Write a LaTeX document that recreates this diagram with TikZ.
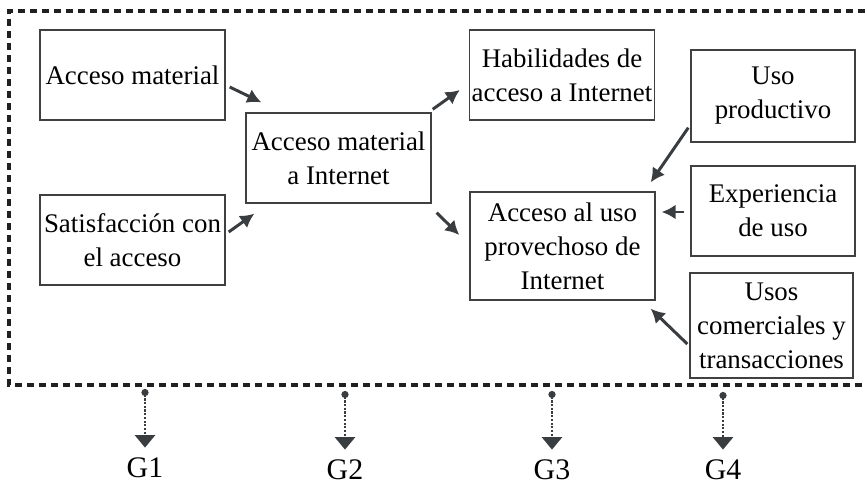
\documentclass[tikz,border=0pt]{standalone}
\usepackage{fontspec}
\setmainfont{Liberation Serif}
\usetikzlibrary{arrows.meta}
\definecolor{arrowgray}{HTML}{3A3D40}
\definecolor{framegray}{HTML}{202020}

\begin{document}
\begin{tikzpicture}[x=0.02cm, y=-0.02cm,
	box/.style={draw=black!75, line width=0.8pt, align=flush center, inner sep=0pt, text width=3.7cm, minimum height=1.8cm, font=\fontsize{15.3}{19.4}\selectfont},
	sidebox/.style={box, text width=3.28cm},
	conn/.style={draw=arrowgray, line width=1.7pt, -{Latex[length=2.8mm, width=3mm]}},
	garrow/.style={draw=arrowgray, line width=1.5pt, dash pattern=on 1.3pt off 0.8pt, {Circle[length=1.4mm]}-{Triangle[length=2.5mm, width=4mm]}, shorten >=0.2cm},
	glabel/.style={font=\fontsize{17}{20}\selectfont, inner sep=0pt}]
	\useasboundingbox (0,0) rectangle (867,487);
	% dashed frame, open on the right
	\draw[framegray, line width=2.3pt, dash pattern=on 0.14cm off 0.1cm] (865,11) -- (9,11) -- (9,385) -- (865,385);
	% boxes
	\node[box] (am) at (132.5,75) {Acceso material};
	\node[box] (sat) at (132.5,240) {Satisfacción con\\el acceso};
	\node[box] (ami) at (338.5,158) {Acceso material\\a Internet};
	\node[box] (hab) at (562,75) {Habilidades de\\acceso a Internet};
	\node[box, minimum height=2.16cm] (prov) at (562.5,246) {Acceso al uso\\provechoso de\\Internet};
	\node[sidebox, minimum height=1.84cm] (uso) at (773,96) {Uso\\productivo};
	\node[sidebox] (exp) at (773,211) {Experiencia\\de uso};
	\node[sidebox, text width=3.26cm, minimum height=2.1cm] (com) at (771.5,325.5) {Usos\\comerciales y\\transacciones};
	% connectors
	\draw[conn] ([shift={(4,12)}]am.east) -- ([shift={(16,-10)}]ami.north west);
	\draw[conn] ([shift={(3,-8)}]sat.east) -- ([shift={(9,10)}]ami.south west);
	\draw[conn] ([shift={(1,-3)}]ami.north east) -- ([shift={(-9,15)}]hab.west);
	\draw[conn] ([shift={(5,9)}]ami.south east) -- ([shift={(-10,-11)}]prov.west);
	\draw[conn] ([shift={(-2,-15)}]uso.south west) -- ([shift={(-5,-9)}]prov.north east);
	\draw[conn] ([shift={(-6,1)}]exp.west) -- ([shift={(6,-34)}]prov.east);
	\draw[conn] ([shift={(-2,18.5)}]com.west) -- ([shift={(-5,8)}]prov.south east);
	% groups below the frame
	\node[glabel] (g1) at (145,468) {G1};
	\node[glabel] (g2) at (345,470) {G2};
	\node[glabel] (g3) at (552,470) {G3};
	\node[glabel] (g4) at (723,470) {G4};
	\coordinate (s1) at (145,389);
	\coordinate (s2) at (345,391);
	\coordinate (s3) at (552,391);
	\coordinate (s4) at (723,392);
	\draw[garrow] (s1) -- (g1.north);
	\draw[garrow] (s2) -- (g2.north);
	\draw[garrow] (s3) -- (g3.north);
	\draw[garrow] (s4) -- (g4.north);
\end{tikzpicture}
\end{document}
